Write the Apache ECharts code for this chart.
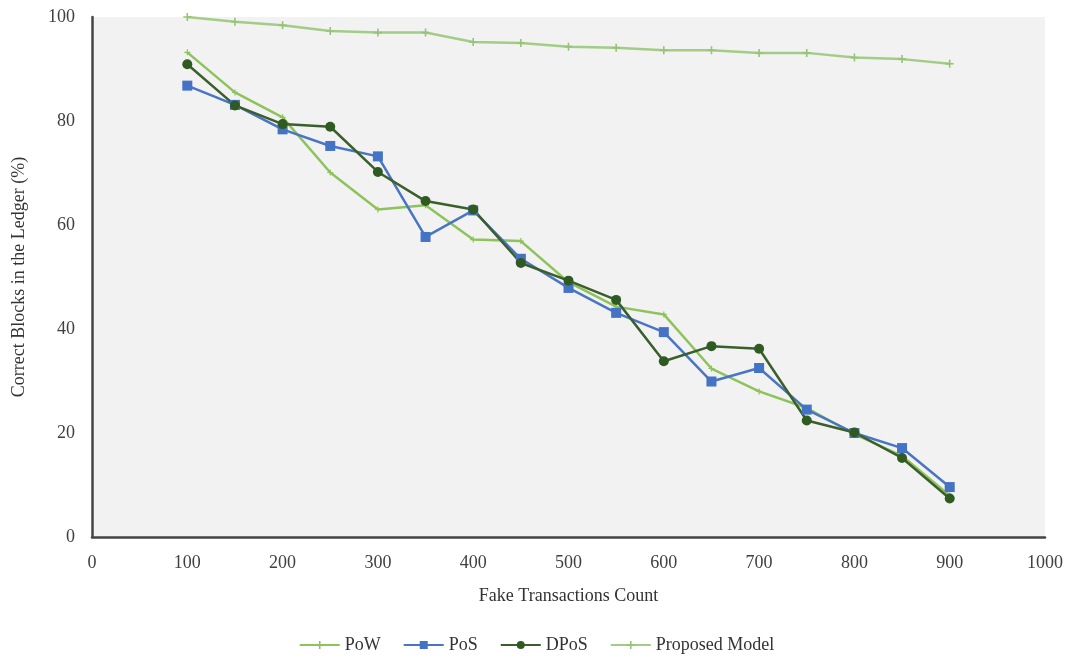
<!DOCTYPE html>
<html>
<head>
<meta charset="utf-8">
<script src="https://cdn.jsdelivr.net/npm/echarts@6/dist/echarts.min.js"></script>
<style>
html,body{margin:0;padding:0;background:#fff;}
#chart{width:1073px;height:665px;}
</style>
</head>
<body>
<div id="chart"></div>
<script>
const xValues = [100,150,200,250,300,350,400,450,500,550,600,650,700,750,800,850,900];
const powValues = [93.2,85.5,80.7,70.1,63.0,63.8,57.2,56.9,49.0,44.3,42.8,32.4,28.0,24.8,19.8,15.6,8.0];
const posValues = [86.8,83.1,78.4,75.2,73.2,57.7,62.8,53.5,47.9,43.1,39.4,29.9,32.5,24.5,20.0,17.1,9.6];
const dposValues = [90.9,83.0,79.4,78.9,70.2,64.6,63.0,52.7,49.3,45.6,33.8,36.7,36.2,22.4,20.1,15.2,7.4];
const proposedValues = [100,99.1,98.4,97.3,97.0,97.0,95.2,95.0,94.3,94.1,93.6,93.6,93.1,93.1,92.2,91.9,91.0];
const seriesNames = ['PoW','PoS','DPoS','Proposed Model'];

const pair = vals => xValues.map((x,i)=>[x, vals[i]]);
const plus = 'path://M4,0h2v4h4v2h-4v4h-2v-4h-4v-2h4z';
const font = '"Liberation Serif", "Times New Roman", serif';

const chart = echarts.init(document.getElementById('chart'));
chart.setOption({
  animation:false,
  backgroundColor:'#ffffff',
  textStyle:{fontFamily:font},
  grid:{left:92,right:28,top:17,bottom:128,show:true,backgroundColor:'#f2f2f2',borderWidth:0},
  legend:{
    bottom:6,left:'center',itemWidth:40,itemHeight:10,itemGap:22,
    textStyle:{fontFamily:font,fontSize:18,color:'#333'},
    data:seriesNames
  },
  xAxis:{
    type:'value',min:0,max:1000,interval:100,
    name:'Fake Transactions Count',nameLocation:'middle',nameGap:50,
    nameTextStyle:{fontFamily:font,fontSize:18,color:'#333'},
    axisLine:{show:true,lineStyle:{color:'#444',width:2.5}},
    axisTick:{show:false},splitLine:{show:false},
    axisLabel:{fontFamily:font,fontSize:18,color:'#404040',margin:17,formatter:v=>String(v)}
  },
  yAxis:{
    type:'value',min:0,max:100,interval:20,
    name:'Correct Blocks in the Ledger (%)',nameLocation:'middle',nameGap:64,
    nameTextStyle:{fontFamily:font,fontSize:18,color:'#333'},
    axisLine:{show:true,lineStyle:{color:'#444',width:2.5}},
    axisTick:{show:false},splitLine:{show:false},
    axisLabel:{fontFamily:font,fontSize:18,color:'#404040',margin:17,formatter:v=>String(v)}
  },
  series:[
    {name:seriesNames[0],type:'line',data:pair(powValues),symbol:plus,symbolSize:6,
     itemStyle:{color:'#8ec35c'},lineStyle:{color:'#8ec35c',width:2.5}},
    {name:seriesNames[1],type:'line',data:pair(posValues),symbol:'rect',symbolSize:10,
     itemStyle:{color:'#4472c4'},lineStyle:{color:'#4a74c4',width:2.5}},
    {name:seriesNames[2],type:'line',data:pair(dposValues),symbol:'circle',symbolSize:10,
     itemStyle:{color:'#2f5a21'},lineStyle:{color:'#3a5f2c',width:2.5}},
    {name:seriesNames[3],type:'line',data:pair(proposedValues),symbol:plus,symbolSize:8,
     itemStyle:{color:'#95c377'},lineStyle:{color:'#a3cc86',width:2.5}}
  ]
});
</script>
</body>
</html>
